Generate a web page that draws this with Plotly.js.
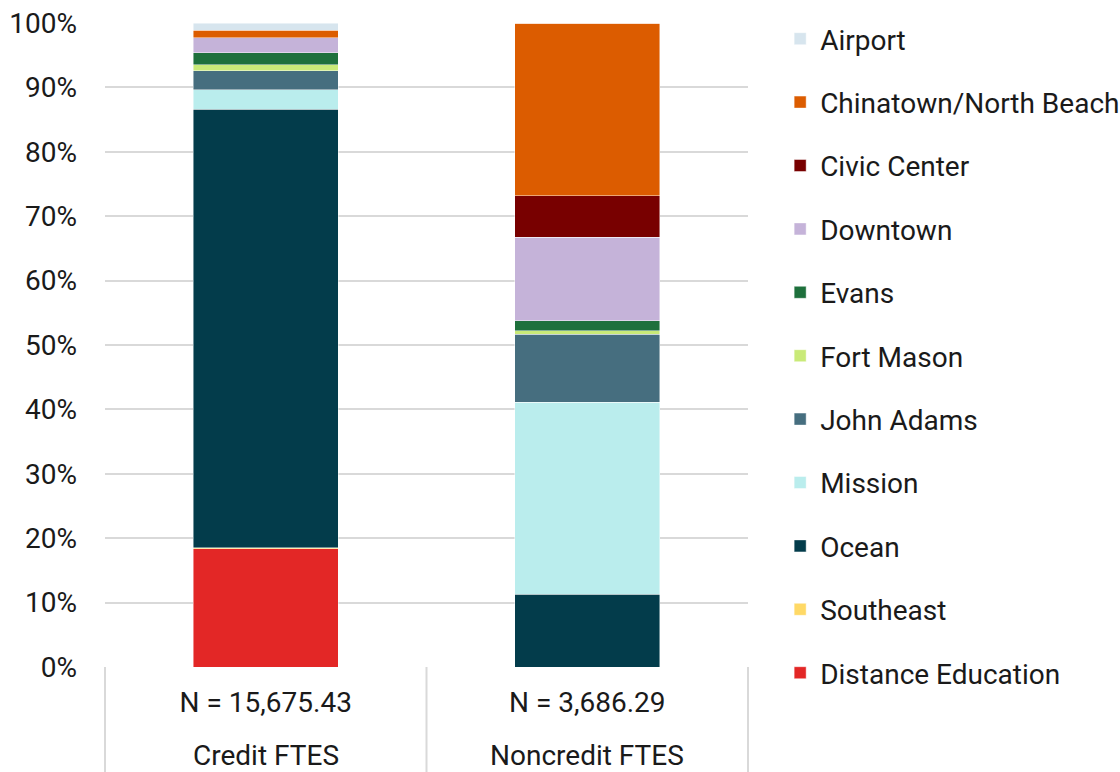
<!DOCTYPE html>
<html>
<head>
<meta charset="utf-8">
<script src="https://cdn.plot.ly/plotly-3.0.1.min.js"></script>
<style>html,body{margin:0;padding:0;background:#fff;}#chart{width:1120px;height:772px;}</style>
</head>
<body>
<div id="chart"></div>
<script>
const categories = ['Credit FTES', 'Noncredit FTES'];
const nLabels = ['N = 15,675.43', 'N = 3,686.29'];
const yTickVals = [0, 10, 20, 30, 40, 50, 60, 70, 80, 90, 100];
const yTickText = ['0%', '10%', '20%', '30%', '40%', '50%', '60%', '70%', '80%', '90%', '100%'];

// stacked bottom to top
const sites = ['Distance Education', 'Southeast', 'Ocean', 'Mission', 'John Adams', 'Fort Mason', 'Evans', 'Downtown', 'Civic Center', 'Chinatown/North Beach', 'Airport'];
const distanceEducation = [18.4, 0];
const southeast = [0.1, 0];
const ocean = [68.1, 11.3];
const mission = [3.0, 29.8];
const johnAdams = [3.0, 10.6];
const fortMason = [0.9, 0.5];
const evans = [1.9, 1.6];
const downtown = [2.3, 12.9];
const civicCenter = [0.0, 6.5];
const chinatown = [1.2, 26.8];
const airport = [1.1, 0.0];

const seriesValues = [distanceEducation, southeast, ocean, mission, johnAdams, fortMason, evans, downtown, civicCenter, chinatown, airport];
const colors = ['#e32726', '#ffd966', '#033c4b', '#baeded', '#466e7f', '#c9ea78', '#1e703c', '#c5b3d9', '#780000', '#dc5c00', '#d7e5ee'];

const traces = sites.map((name, i) => ({
  type: 'bar',
  name: name,
  x: categories,
  y: seriesValues[i],
  legendgroup: 'g' + i,
  legendrank: sites.length - i,
  marker: {color: colors[i], line: {color: 'rgba(255,255,255,0.6)', width: 0.75}},
  width: 0.45,
  hoverinfo: 'name+y'
}));

const FONT = 'Roboto, "Noto Sans", sans-serif';
const FS = 28;
const plotH = 772 - 23 - 105;

const layout = {
  width: 1120, height: 772,
  margin: {l: 105, r: 372, t: 23, b: 105, autoexpand: false},
  barmode: 'stack',
  paper_bgcolor: '#fff', plot_bgcolor: '#fff',
  font: {family: FONT, size: FS, color: '#1a1a1a'},
  showlegend: true,
  legend: {
    x: 1.05, xanchor: 'left', y: 1 + 9 / plotH, yanchor: 'top',
    traceorder: 'grouped', tracegroupgap: 24, maxheight: 772,
    font: {family: FONT, size: FS, color: '#1a1a1a'},
    bgcolor: 'rgba(0,0,0,0)'
  },
  xaxis: {
    tickvals: categories, ticktext: nLabels,
    ticks: '', showgrid: false, showline: false, zeroline: false,
    ticklabelstandoff: 16,
    tickfont: {family: FONT, size: FS, color: '#1a1a1a'}
  },
  yaxis: {
    range: [0, 100], tickmode: 'array', tickvals: yTickVals, ticktext: yTickText,
    ticks: '', showline: false, zeroline: false,
    gridcolor: '#d9d9d9', gridwidth: 2,
    ticklabelstandoff: 27,
    tickfont: {family: FONT, size: FS, color: '#1a1a1a'}
  },
  shapes: [0, 0.5, 1].map(xv => ({
    type: 'line', xref: 'paper', yref: 'paper',
    x0: xv, x1: xv, y0: 0, y1: -105 / plotH,
    line: {color: '#d9d9d9', width: 2}
  })),
  annotations: categories.map(c => ({
    x: c, xref: 'x', yref: 'paper', y: -88 / plotH, yanchor: 'middle',
    text: c, showarrow: false,
    font: {family: FONT, size: FS, color: '#1a1a1a'}
  }))
};

Plotly.newPlot('chart', traces, layout, {displayModeBar: false, staticPlot: true});
</script>
</body>
</html>
